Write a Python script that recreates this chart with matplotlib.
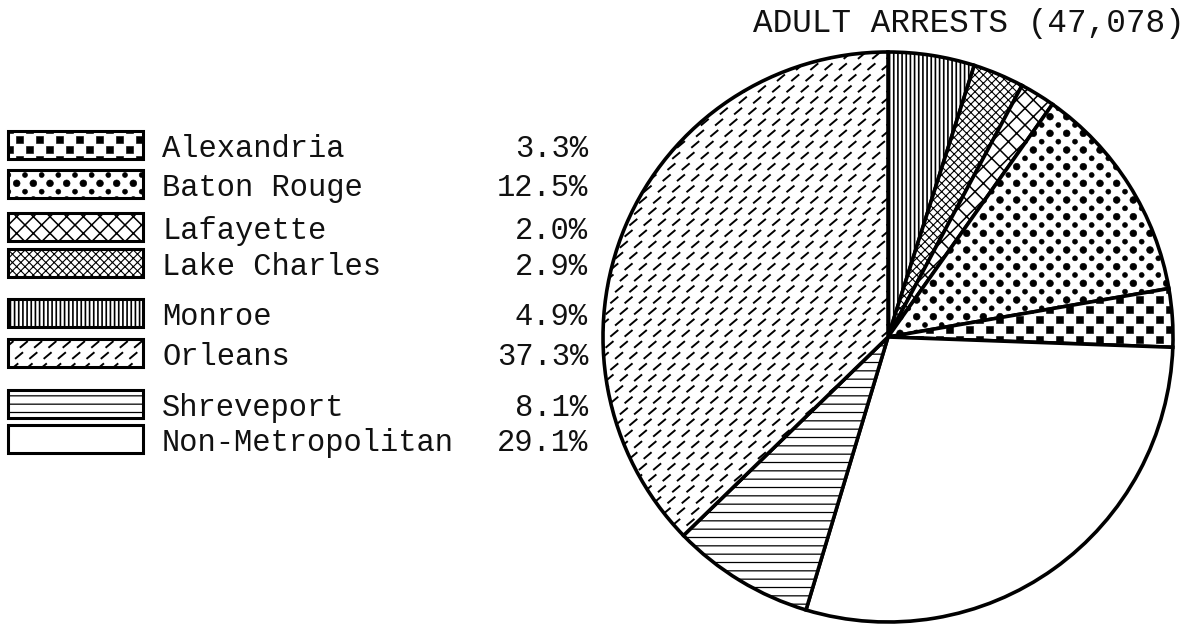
import warnings
import numpy as np
import matplotlib
matplotlib.use('Agg')
import matplotlib.pyplot as plt
import matplotlib.hatch as mhatch
from matplotlib.path import Path
from matplotlib.patches import Rectangle

warnings.filterwarnings('ignore')  # custom hatch letters raise a deprecation warning

# ---- data (legend order) ----
names = ['Alexandria', 'Baton Rouge', 'Lafayette', 'Lake Charles',
         'Monroe', 'Orleans', 'Shreveport', 'Non-Metropolitan']
pcts = [3.3, 12.5, 2.0, 2.9, 4.9, 37.3, 8.1, 29.1]
pct_labels = ['3.3%', '12.5%', '2.0%', '2.9%', '4.9%', '37.3%', '8.1%', '29.1%']
# clockwise from 12 o'clock
pie_order = ['Monroe', 'Lake Charles', 'Lafayette', 'Baton Rouge',
             'Alexandria', 'Non-Metropolitan', 'Shreveport', 'Orleans']
title = 'ADULT ARRESTS (47,078)'

# ---- styling ----
hatch = {'Alexandria': 's', 'Baton Rouge': 'b', 'Lafayette': 'xx',
         'Lake Charles': 'xxxx', 'Monroe': '||||', 'Orleans': 'd',
         'Shreveport': '--', 'Non-Metropolitan': None}
hatch_lw = {'Alexandria': 0.4, 'Baton Rouge': 0.4, 'Lafayette': 1.1,
            'Lake Charles': 0.8, 'Monroe': 1.2, 'Orleans': 1.4,
            'Shreveport': 0.9, 'Non-Metropolitan': 1.0}


class LatticeHatch(mhatch.HatchPatternBase):
    """marks repeated on a lattice inside the 1x1 hatch tile"""
    char = '?'

    def __init__(self, hatch, density):
        if hatch.count(self.char) == 0:
            self.num_vertices = 0
            return
        verts, codes = [], []
        for v, c in self.marks():
            for ox in (-1, 0, 1):
                for oy in (-1, 0, 1):
                    verts.append(v + [ox, oy])
                    codes.append(c)
        self._v = np.concatenate(verts)
        self._c = np.concatenate(codes)
        self.num_vertices = len(self._v)

    def set_vertices_and_codes(self, vertices, codes):
        vertices[:] = self._v
        codes[:] = self._c


class DashHatch(LatticeHatch):  # short slanted dashes (Orleans)
    char = 'd'

    def marks(self):
        cols, rows, shift = 7, 9, 1 / 21
        a = np.radians(40)
        d = np.array([np.cos(a), np.sin(a)]) * 0.042
        for j in range(rows):
            for i in range(cols):
                p = np.array([(i / cols + j * shift) % 1, j / rows])
                yield np.array([p - d, p + d]), np.array([Path.MOVETO, Path.LINETO])


class SquareHatch(LatticeHatch):  # checkerboard of small squares (Alexandria)
    char = 's'

    def marks(self):
        cols, rows, h = 5, 10, 0.035
        sq = np.array([[-h, -h], [h, -h], [h, h], [-h, h], [-h, -h]])
        cd = np.array([Path.MOVETO] + [Path.LINETO] * 3 + [Path.CLOSEPOLY])
        for j in range(rows):
            for i in range(cols):
                p = np.array([(i + 0.5 * (j % 2)) / cols, j / rows])
                yield sq + p, cd


class DotHatch(LatticeHatch):  # staggered dots, alternating sizes (Baton Rouge)
    char = 'b'

    def marks(self):
        cols, rows = 6, 12
        circ = Path.unit_circle()
        for j in range(rows):
            r = 0.034 if j % 2 == 0 else 0.025
            for i in range(cols):
                p = np.array([(i + 0.5 * (j % 2)) / cols, j / rows])
                yield circ.vertices * r + p, circ.codes


mhatch._hatch_types.extend([DashHatch, SquareHatch, DotHatch])


def set_hatch(p, name):
    p.set_hatch(hatch[name])
    if hasattr(p, 'set_hatch_linewidth'):
        p.set_hatch_linewidth(hatch_lw[name])


plt.rcParams['hatch.linewidth'] = 1.0
plt.rcParams['font.family'] = ['Liberation Mono', 'DejaVu Sans Mono']

W, H = 1196, 625
fig = plt.figure(figsize=(W / 100, H / 100), dpi=100)
ax = fig.add_axes([0, 0, 1, 1])


def Y(py):  # pixel row -> data y
    return H - py


# ---- pie ----
cx, cy, R = 888, 337, 285
vals = [pcts[names.index(n)] for n in pie_order]
wedges, _ = ax.pie(vals, center=(cx, Y(cy)), radius=R, startangle=90,
                   counterclock=False, colors=['white'] * len(vals),
                   wedgeprops=dict(edgecolor='black', linewidth=2.6))
for w, n in zip(wedges, pie_order):
    set_hatch(w, n)

# ---- legend ----
box_y = [145, 184, 227, 263, 313, 353, 404, 439]
box_h = 28
for n, lab, yc in zip(names, pct_labels, box_y):
    r = Rectangle((8, Y(yc + box_h / 2)), 135, box_h, facecolor='white',
                  edgecolor='black', linewidth=2.2)
    set_hatch(r, n)
    ax.add_patch(r)
    ax.text(162, Y(yc + 12), n, fontsize=22, ha='left', va='baseline', color='#111111')
    ax.text(588, Y(yc + 12), lab, fontsize=22, ha='right', va='baseline', color='#111111')

ax.text(1185, Y(32), title, fontsize=23.5, ha='right', va='baseline', color='#111111')

ax.set_xlim(0, W)
ax.set_ylim(0, H)
ax.set_aspect('equal')
ax.axis('off')

fig.savefig('out.png', dpi=100, facecolor='white')
